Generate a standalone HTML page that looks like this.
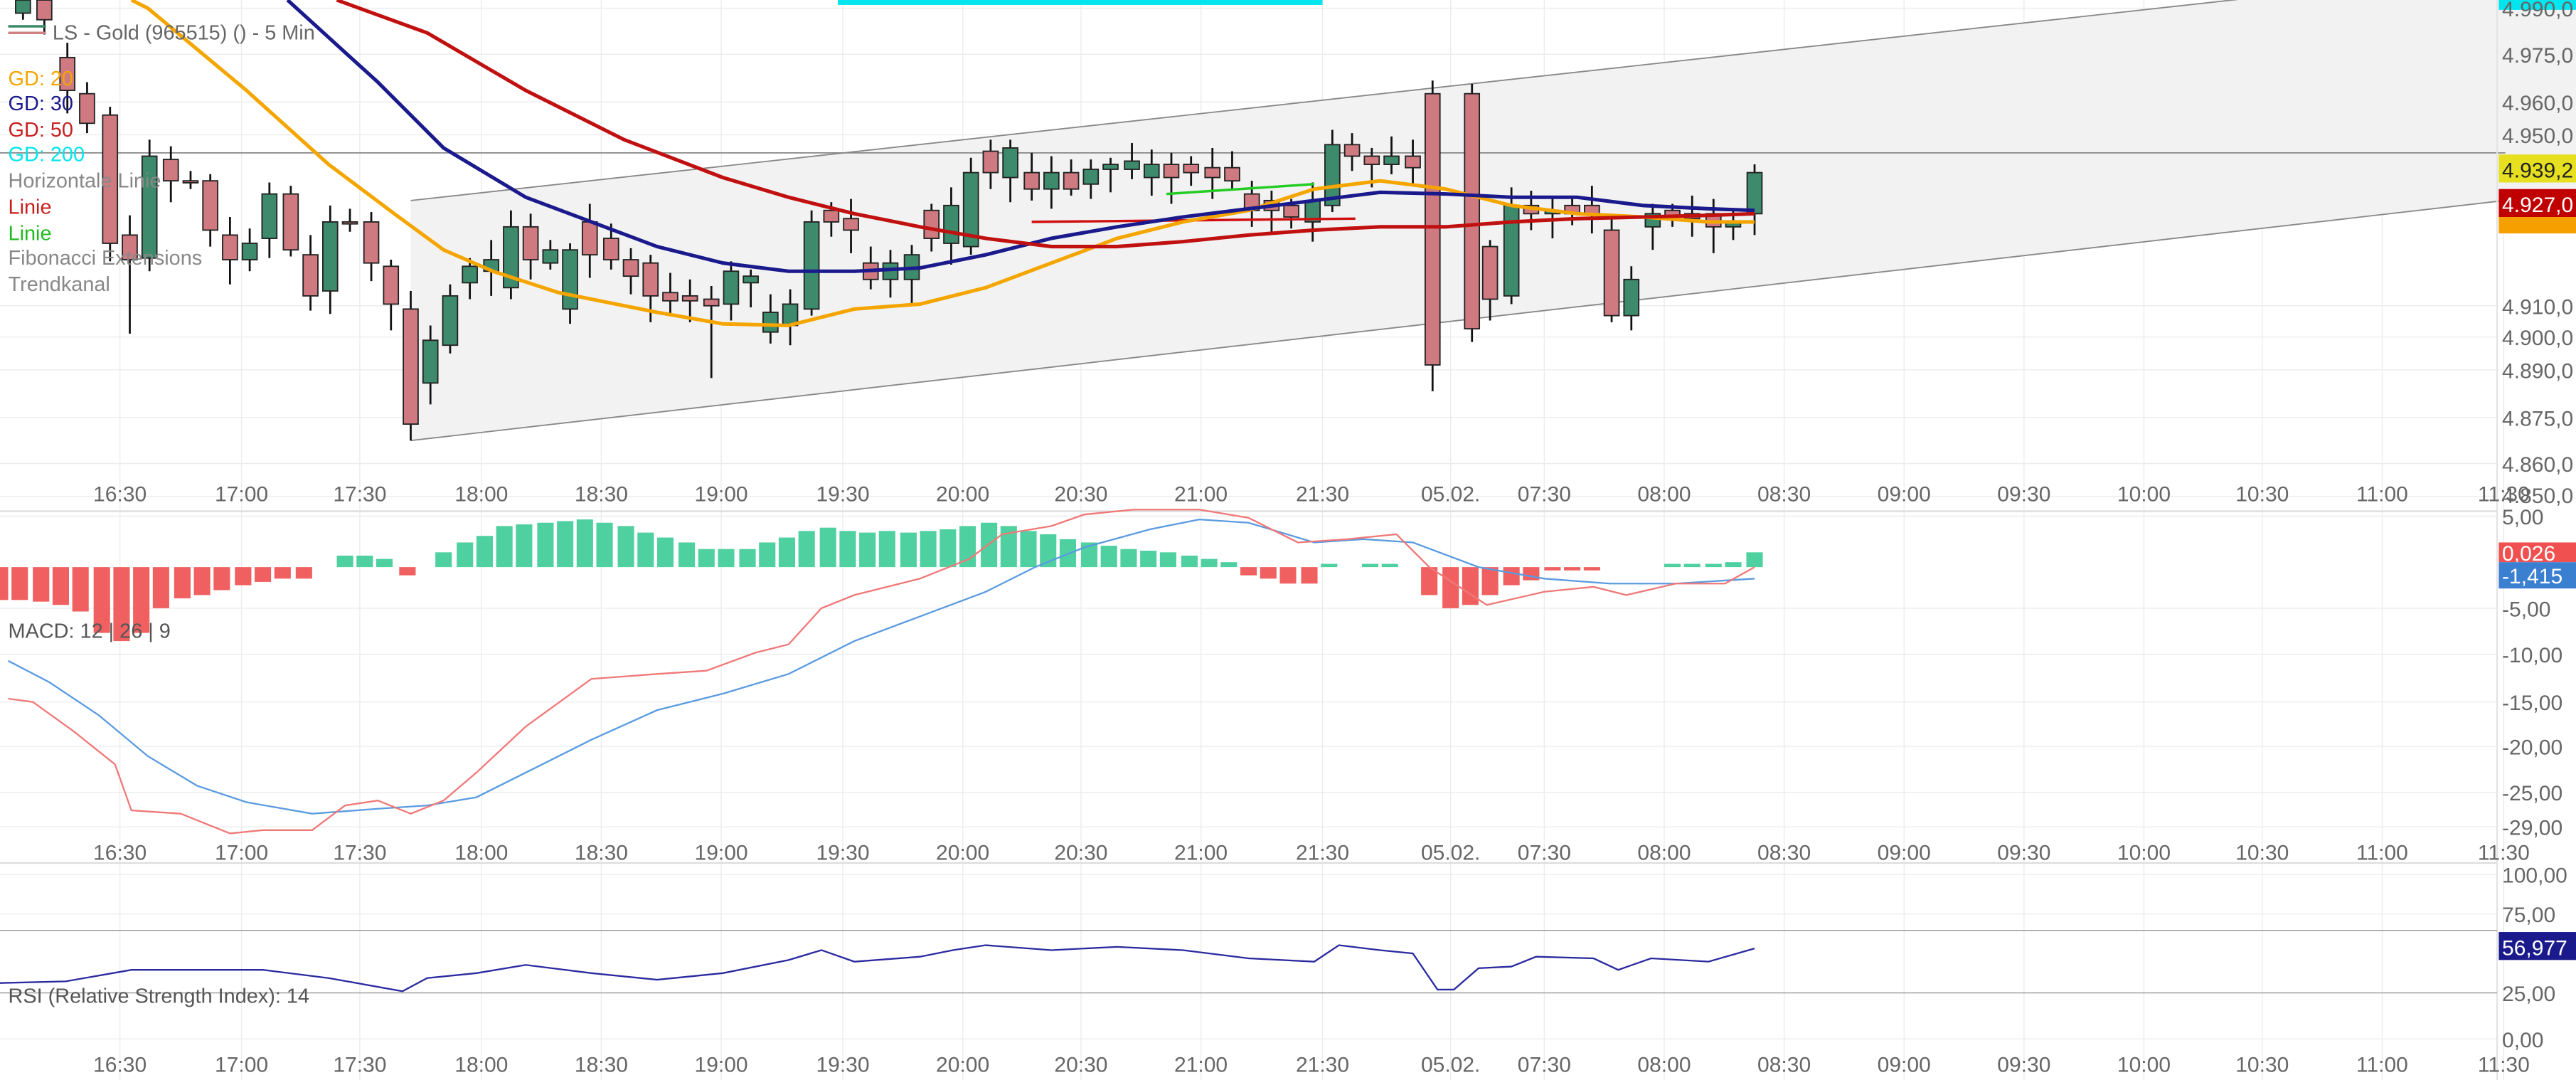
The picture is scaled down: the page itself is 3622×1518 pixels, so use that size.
<!DOCTYPE html>
<html><head><meta charset="utf-8"><style>
html,body{margin:0;padding:0;background:#fff;overflow:hidden}
svg{display:block}
text{font-family:"Liberation Sans",sans-serif}
</style></head><body>
<svg id="s" width="3622" height="1518" viewBox="0 0 1568 657" preserveAspectRatio="none" xmlns="http://www.w3.org/2000/svg">
<rect width="1568" height="657" fill="#fff"/>
<g id="grid" stroke="#ececec" stroke-width="0.6"></g>
<polygon points="250,122 1568,-23 1568,117 250,268" fill="#f2f2f2"/>
<line x1="250" y1="122" x2="1568" y2="-23" stroke="#888" stroke-width="0.8"/>
<line x1="250" y1="268" x2="1568" y2="117" stroke="#888" stroke-width="0.8"/>
<line x1="0" y1="93" x2="1525" y2="93" stroke="#888" stroke-width="0.8"/>
<rect x="510" y="0" width="295" height="3" fill="#00e5ee"/>
<g id="candles"></g>
<line x1="628" y1="135" x2="825" y2="133" stroke="#d01010" stroke-width="1.5"/>
<line x1="710" y1="118" x2="800" y2="112" stroke="#22cc22" stroke-width="1.5"/>
<polyline fill="none" stroke="#f5a500" stroke-width="2.2" points="80,0 90,5 150,55 200,100 240,130 270,152 300,165 340,178 400,190 440,197 480,198 520,188 560,185 600,175 640,160 680,145 720,135 760,128 800,115 840,110 880,115 920,125 960,130 1000,132 1040,135 1068,135"/>
<polyline fill="none" stroke="#1a1a8c" stroke-width="2.2" points="175,0 230,50 270,90 320,120 360,135 400,150 440,160 480,165 520,165 560,163 600,155 640,145 680,138 720,132 760,127 800,122 840,117 880,118 920,120 960,120 1000,125 1040,127 1068,128"/>
<polyline fill="none" stroke="#c01010" stroke-width="2.2" points="205,0 260,20 320,55 380,85 440,108 480,120 520,130 560,138 600,145 640,150 680,150 720,147 760,143 800,140 840,138 880,138 920,135 960,133 1000,132 1040,131 1068,130"/>
<g font-size="12.5">
<line x1="5" y1="16" x2="28" y2="16" stroke="#3a8a6a" stroke-width="1.5"/><line x1="5" y1="20" x2="28" y2="20" stroke="#d08080" stroke-width="1.5"/>
<text x="32" y="24" fill="#666">LS - Gold (965515) () - 5 Min</text>
<text x="5" y="52" fill="#f5a500">GD: 20</text>
<text x="5" y="67" fill="#1a1a8c">GD: 30</text>
<text x="5" y="83" fill="#c82020">GD: 50</text>
<text x="5" y="98" fill="#00e5ee">GD: 200</text>
<text x="5" y="114" fill="#888">Horizontale Linie</text>
<text x="5" y="130" fill="#c82020">Linie</text>
<text x="5" y="146" fill="#22bb22">Linie</text>
<text x="5" y="161" fill="#888">Fibonacci Extensions</text>
<text x="5" y="177" fill="#888">Trendkanal</text>
</g>
<line x1="0" y1="311" x2="1520" y2="311" stroke="#ddd"/>
<line x1="0" y1="525" x2="1520" y2="525" stroke="#ddd"/>
<line x1="1520" y1="0" x2="1520" y2="657" stroke="#e4e4e4"/>
<g id="hist"></g>
<polyline fill="none" stroke="#5a9be0" stroke-width="1" points="5,402 30,415 60,435 90,460 120,478 150,488 190,495 230,492 260,490 290,485 320,470 360,450 400,432 440,422 480,410 520,390 560,375 600,360 630,345 660,333 700,322 730,316 760,318 800,330 830,328 860,330 900,345 940,352 980,355 1020,355 1068,352"/>
<polyline fill="none" stroke="#f07878" stroke-width="1" points="5,425 20,427 45,445 70,465 80,493 110,495 140,507 160,505 190,505 210,490 230,487 250,495 270,487 290,470 320,442 360,413 400,410 430,408 460,397 480,392 500,370 520,362 560,352 590,340 610,325 640,320 660,313 690,310 730,310 760,315 790,330 820,328 850,325 870,345 905,368 940,360 970,357 990,362 1020,355 1050,355 1068,345"/>
<text x="5" y="388" font-size="12.5" fill="#555">MACD: 12 | 26 | 9</text>
<line x1="0" y1="566" x2="1520" y2="566" stroke="#999" stroke-width="0.6"/>
<line x1="0" y1="604" x2="1520" y2="604" stroke="#999" stroke-width="0.6"/>
<polyline fill="none" stroke="#2a2aa0" stroke-width="1" points="0,598 40,597 80,590 120,590 160,590 200,595 245,603 260,595 290,592 320,587 360,592 400,596 440,592 480,584 500,578 520,585 560,582 580,578 600,575 640,578 680,576 720,578 760,583 800,585 815,575 840,578 860,580 875,602 885,602 900,589 920,588 935,582 970,583 985,590 1005,583 1040,585 1068,577"/>
<text x="5" y="610" font-size="12.5" fill="#555">RSI (Relative Strength Index): 14</text>
<g id="times" font-size="13" fill="#666" text-anchor="middle"></g>
<g font-size="13" fill="#666">
<rect x="1521" y="-6" width="47" height="12" fill="#00e5ee"/>
<text x="1523" y="10">4.990,0</text><text x="1523" y="38">4.975,0</text><text x="1523" y="67">4.960,0</text><text x="1523" y="87">4.950,0</text>
<rect x="1521" y="94" width="47" height="17" fill="#e6e020"/><text x="1523" y="108" fill="#222">4.939,2</text>
<rect x="1521" y="130" width="47" height="12" fill="#f5a000"/>
<rect x="1521" y="115" width="47" height="17" fill="#c00000"/><text x="1523" y="129" fill="#fff">4.927,0</text>
<text x="1523" y="191">4.910,0</text><text x="1523" y="210">4.900,0</text><text x="1523" y="230">4.890,0</text><text x="1523" y="259">4.875,0</text><text x="1523" y="287">4.860,0</text><text x="1523" y="306">4.850,0</text>
<text x="1523" y="319">5,00</text>
<rect x="1521" y="330" width="47" height="12" fill="#f05050"/><text x="1523" y="341" fill="#fff">0,026</text>
<rect x="1521" y="342" width="47" height="16" fill="#3a7fd0"/><text x="1523" y="355" fill="#fff">-1,415</text>
<text x="1523" y="375">-5,00</text><text x="1523" y="403">-10,00</text><text x="1523" y="432">-15,00</text><text x="1523" y="459">-20,00</text><text x="1523" y="487">-25,00</text><text x="1523" y="508">-29,00</text>
<text x="1523" y="537">100,00</text><text x="1523" y="561">75,00</text>
<rect x="1521" y="567" width="47" height="17" fill="#1a1a8c"/><text x="1523" y="581" fill="#fff">56,977</text>
<text x="1523" y="609">25,00</text><text x="1523" y="637">0,00</text>
</g>
</svg>
<script>
var NS="http://www.w3.org/2000/svg";
function el(p,t,a){var e=document.createElementNS(NS,t);for(var k in a)e.setAttribute(k,a[k]);document.getElementById(p).appendChild(e);return e;}
var tx=[[73,"16:30"],[147,"17:00"],[219,"17:30"],[293,"18:00"],[366,"18:30"],[439,"19:00"],[513,"19:30"],[586,"20:00"],[658,"20:30"],[731,"21:00"],[805,"21:30"],[883,"05.02."],[940,"07:30"],[1013,"08:00"],[1086,"08:30"],[1159,"09:00"],[1232,"09:30"],[1305,"10:00"],[1377,"10:30"],[1450,"11:00"],[1524,"11:30"]];
tx.forEach(function(t){el("grid","line",{x1:t[0],y1:0,x2:t[0],y2:657});[305,523,652].forEach(function(y){var e=el("times","text",{x:t[0],y:y});e.textContent=t[1];});});
[5,33,62,82,186,205,225,254,282,302,314,370,398,427,454,482,503,532,556,632].forEach(function(y){el("grid","line",{x1:0,y1:y,x2:1520,y2:y});});
var C=[[14,8,0],[27,0,12],[41,35,55],[53,57,75],[67,70,148],[79,143,158],[91,157,95],[104,97,110],[116,110,110],[128,110,140],[140,143,158],[152,158,148],[164,145,118],[177,118,152],[189,155,180],[201,177,135],[213,135,135],[226,135,160],[238,162,185],[250,188,258],[262,233,207],[274,210,180],[286,172,162],[299,165,158],[311,175,138],[323,138,158],[335,160,152],[347,188,152],[359,135,155],[372,145,158],[384,158,168],[396,160,180],[408,178,183],[420,180,183],[433,182,186],[445,185,165],[457,172,168],[469,202,190],[481,198,185],[494,188,135],[506,128,135],[518,133,140],[530,160,170],[542,170,160],[555,170,155],[567,128,145],[579,148,125],[591,150,105],[603,92,105],[615,108,90],[628,105,115],[640,115,105],[652,105,115],[664,112,103],[676,103,100],[689,103,98],[701,108,100],[713,100,108],[725,100,105],[738,102,108],[750,102,110],[762,118,128],[774,122,128],[786,125,132],[799,135,122],[811,125,88],[823,88,95],[835,95,100],[847,100,95],[860,95,102],[872,57,222],[896,57,200],[907,150,182],[920,180,125],[932,125,130],[945,130,128],[957,125,130],[969,125,130],[981,140,192],[993,192,170],[1006,138,130],[1018,128,132],[1030,130,133],[1043,130,138],[1055,138,135],[1068,130,105]];
C.forEach(function(c,i){var hi=Math.min(c[1],c[2])-4-(i*7%9),lo=Math.max(c[1],c[2])+4+(i*5%13);if(i==34)lo=230;if(i==5)lo=203;if(i==19)lo=268;
el("candles","line",{x1:c[0],y1:Math.max(hi,0),x2:c[0],y2:lo,stroke:"#111","stroke-width":1.2});
var up=c[2]<c[1];var t=Math.min(c[1],c[2]),h=Math.max(Math.abs(c[1]-c[2]),1.2);
el("candles","rect",{x:c[0]-4.5,y:t,width:9,height:h,fill:up?"#3d8a6c":"#cf7a80",stroke:"#222","stroke-width":0.8});});
var H=[[0,365],[12,365],[25,366],[37,368],[49,372],[62,385],[74,390],[86,385],[98,370],[111,364],[123,362],[135,359],[148,356],[160,354],[172,352],[185,352],[210,338],[222,338],[234,340],[248,350],[270,336],[283,330],[295,326],[307,320],[319,319],[332,318],[344,317],[356,316],[368,318],[381,320],[393,324],[405,327],[418,330],[430,334],[442,334],[455,334],[467,330],[479,327],[491,323],[504,321],[516,323],[528,324],[540,323],[553,324],[565,323],[577,322],[589,320],[602,318],[614,320],[626,323],[638,325],[650,328],[663,330],[675,332],[687,334],[699,335],[711,336],[724,338],[736,340],[748,342],[760,350],[772,352],[784,355],[797,355],[809,343],[834,343],[846,343],[870,362],[883,370],[895,368],[907,362],[920,356],[932,353],[945,347],[957,347],[969,347],[1018,343],[1030,343],[1043,343],[1055,342],[1068,336]];
var Z=345;H.forEach(function(b){var v=b[1];el("hist","rect",{x:b[0]-5,y:Math.min(v,Z),width:10,height:Math.max(Math.abs(v-Z),1.5),fill:v>Z?"#f06060":"#4fd0a0"});});
</script>
</body></html>
